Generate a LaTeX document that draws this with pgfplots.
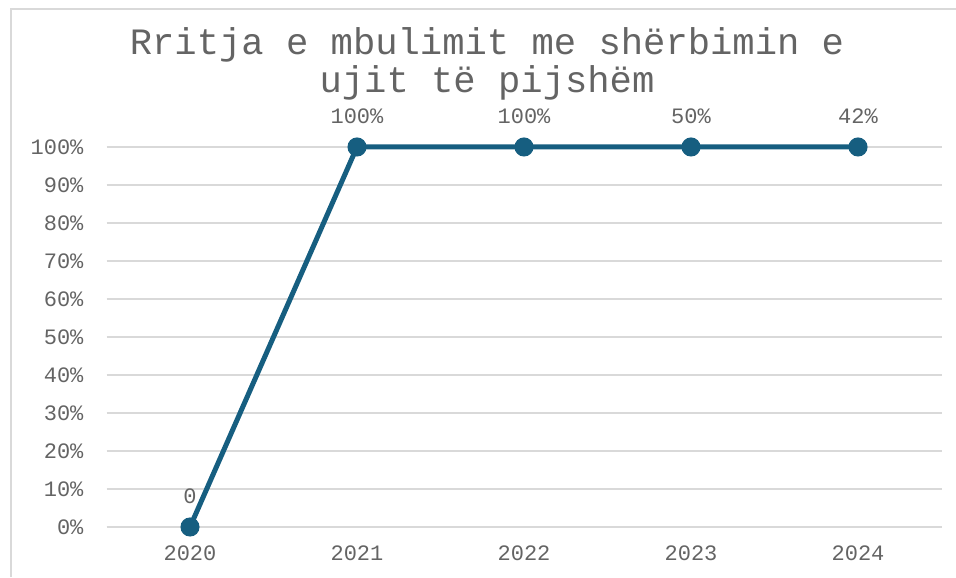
\documentclass[border=0pt]{standalone}
\usepackage{fontspec}
\setmainfont{Liberation Mono}
\usepackage{pgfplots}
\pgfplotsset{compat=1.18}
\definecolor{linecol}{RGB}{22,94,128}
\definecolor{txt}{RGB}{100,100,100}
\definecolor{gridc}{RGB}{217,217,217}
\begin{document}
\begin{tikzpicture}
\path[use as bounding box] (0pt,0pt) rectangle (478pt,288.5pt);
\draw[gridc,line width=1pt] (5.5pt,0pt) -- (5.5pt,284pt) -- (478pt,284pt);
\node[txt,align=center,font=\fontsize{18.6}{19}\selectfont] at (243.5pt,256.5pt)
  {Rritja e mbulimit me shërbimin e\\ujit të pijshëm};
\begin{axis}[
  at={(53.25pt,25pt)}, anchor=south west,
  width=417.5pt, height=190pt, scale only axis,
  xmin=-0.5, xmax=4.5, ymin=0, ymax=100,
  xtick={0,1,2,3,4},
  xticklabels={2020,2021,2022,2023,2024},
  ytick={0,10,...,100},
  yticklabel={\pgfmathprintnumber{\tick}\%},
  /pgf/number format/assume math mode=true,
  ymajorgrids, grid style={gridc,line width=1pt},
  axis line style={draw=none},
  x axis line style={draw=gridc,line width=1pt},
  axis x line*=bottom,
  major tick length=0pt,
  tick label style={txt,font=\fontsize{11}{13}\selectfont},
  xticklabel style={yshift=-6pt},
  yticklabel style={xshift=-8pt},
  clip=false,
  nodes near coords,
  point meta=explicit symbolic,
  every node near coord/.append style={txt,font=\fontsize{11}{13}\selectfont,yshift=7pt},
]
\addplot[linecol,line width=2.5pt,mark=*,mark size=3.5pt,mark options={fill=linecol,draw=linecol}]
  coordinates {(0,0) [0] (1,100) [100\%] (2,100) [100\%] (3,100) [50\%] (4,100) [42\%]};
\end{axis}
\end{tikzpicture}
\end{document}
